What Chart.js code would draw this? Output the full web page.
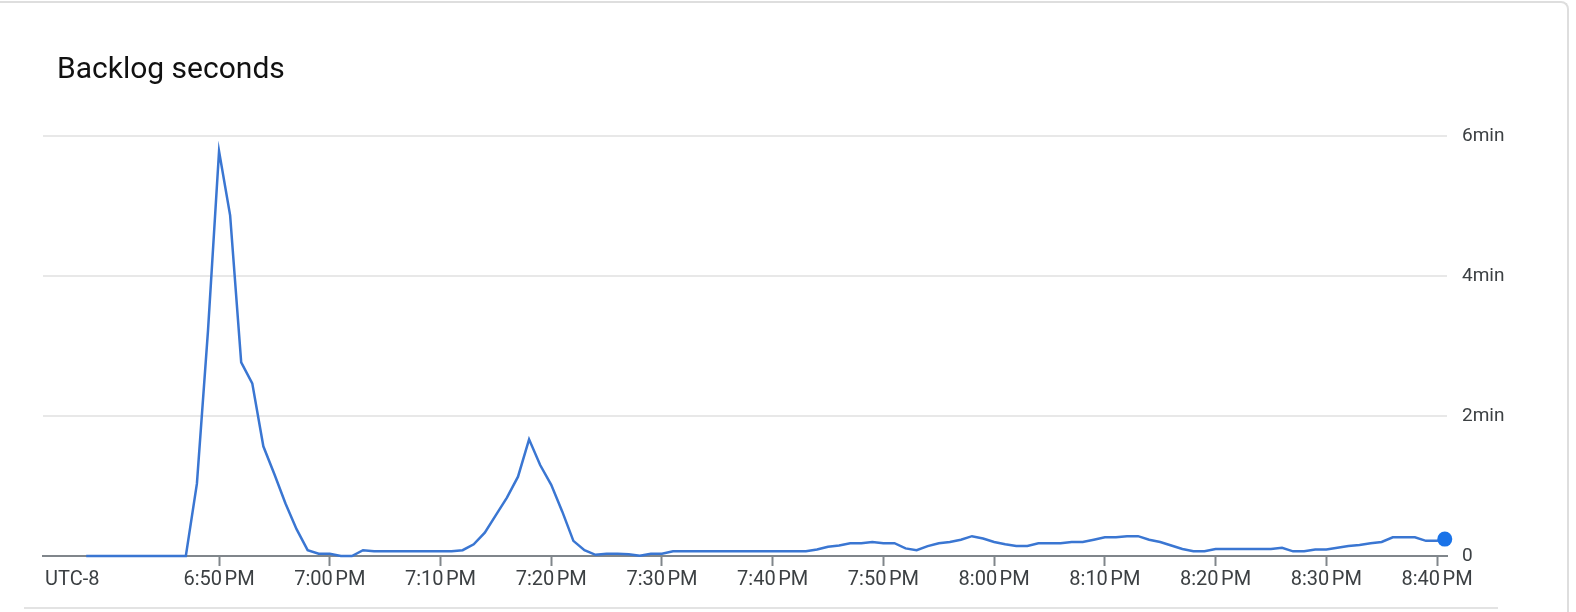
<!DOCTYPE html>
<html>
<head>
<meta charset="utf-8">
<script src="https://cdn.jsdelivr.net/npm/chart.js@4.4.1/dist/chart.umd.min.js"></script>
<style>
  html, body { margin: 0; padding: 0; background: #fff; overflow: hidden; }
  #wrap { position: relative; width: 1576px; height: 612px; }
  .card { position: absolute; left: -10px; top: 1px; width: 1579px; height: 700px; box-sizing: border-box;
          border-top: 2px solid #dedede; border-right: 2px solid #dedede; border-top-right-radius: 8px; }
  .sep { position: absolute; left: 24px; top: 607px; width: 1474px; height: 2px; background: #e3e3e3; }
  #myChart { position: absolute; left: 0; top: 0; }
</style>
</head>
<body>
<div id="wrap">
  <div class="card"></div>
  <div class="sep"></div>
  <canvas id="myChart" width="1576" height="612"></canvas>
</div>
<script>
// sample times, minutes after 6:00 PM (UTC-8)
var sampleMinutes = [
  38,39,40,41,42,43,44,45,46,47,48,49,50,51,52,53,54,55,56,57,58,59,
  60,61,62,63,64,65,66,67,68,69,70,71,72,73,74,75,76,77,78,79,80,81,
  82,83,84,85,86,87,88,89,90,91,92,93,94,95,96,97,98,99,100,101,102,103,
  104,105,106,107,108,109,110,111,112,113,114,115,116,117,118,119,120,121,
  122,123,124,125,126,127,128,129,130,131,132,133,134,135,136,137,138,139,
  140,141,142,143,144,145,146,147,148,149,150,151,152,153,154,155,156,157,
  158,159,160,160.7
];
// backlog in seconds
var backlogSeconds = [
  0,0,0,0,0,0,0,0,0,0,62,193,347,292,166,148,94,70,45,23,5,2,
  2,0,0,5,4,4,4,4,4,4,4,4,5,10,20,35,50,68,100,78,61,38,
  13,5,1,2,2,1.5,0.3,2,2,4,4,4,4,4,4,4,4,4,4,4,4,4,
  5.5,8,9,11,11,12,11,11,6.5,5,8.5,11,12,14,17,15,12,10,
  8.5,8.5,11,11,11,12,12,14,16,16,17,17,14,12,9,6,4,4,
  6,6,6,6,6,6,7,4,4,5.5,5.5,7,8.5,9.5,11,12,16,16,
  16,13,13,14.5
];
var tickMinutes = [50,60,70,80,90,100,110,120,130,140,150,160];
var yTicks = [0,120,240,360];

function timeLabel(m) {
  var h = Math.floor(m / 60), mm = m % 60;
  return (6 + h) + ":" + (mm < 10 ? "0" + mm : mm) + "\u202FPM";
}

var extraText = {
  id: 'extraText',
  afterDraw: function(chart) {
    var c = chart.ctx;
    c.save();
    c.fillStyle = '#111';
    c.font = '30px Roboto';
    c.textBaseline = 'alphabetic';
    c.textAlign = 'left';
    c.fillText('Backlog seconds', 57, 78);
    c.fillStyle = '#3c4043';
    c.font = '20px Roboto';
    c.textBaseline = 'middle';
    c.fillText('UTC-8', 45, 580);
    c.restore();
  }
};

var ctx = document.getElementById('myChart').getContext('2d');
var lastIdx = backlogSeconds.length - 1;

var myChart = new Chart(ctx, {
  type: 'line',
  data: {
    datasets: [{
      data: sampleMinutes.map(function(t, i) { return { x: t, y: backlogSeconds[i] }; }),
      borderColor: '#3a76d2',
      borderWidth: 2.5,
      tension: 0,
      clip: false,
      pointRadius: function(c) { return c.dataIndex === lastIdx ? 7.5 : 0; },
      pointBackgroundColor: '#1a73e8',
      pointBorderWidth: 0
    }]
  },
  options: {
    responsive: false,
    animation: false,
    layout: { padding: { left: 43, top: 136, right: 0, bottom: 0 } },
    plugins: { legend: { display: false }, tooltip: { enabled: false }, title: { display: false } },
    scales: {
      x: {
        type: 'linear',
        min: 34.1,
        max: 160.9,
        afterBuildTicks: function(s) { s.ticks = tickMinutes.map(function(v) { return { value: v }; }); },
        afterFit: function(s) { s.height = 56; },
        grid: { drawOnChartArea: false, tickLength: 10, color: '#80868b', tickWidth: 2 },
        border: { display: true, color: '#80868b', width: 2 },
        ticks: {
          autoSkip: false, maxRotation: 0, padding: 2,
          color: '#3c4043', font: { family: 'Roboto', size: 20 },
          callback: function(v) { return timeLabel(v); }
        }
      },
      y: {
        position: 'right',
        min: 0,
        max: 360,
        afterBuildTicks: function(s) { s.ticks = yTicks.map(function(v) { return { value: v }; }); },
        afterFit: function(s) { s.width = 129; },
        grid: { color: '#e8e8e8', lineWidth: 2, drawTicks: false },
        border: { display: false },
        ticks: {
          padding: 15,
          color: '#3c4043', font: { family: 'Roboto', size: 19 },
          callback: function(v) { return v === 0 ? '0' : (v / 60) + 'min'; }
        }
      }
    }
  },
  plugins: [extraText]
});
</script>
</body>
</html>
